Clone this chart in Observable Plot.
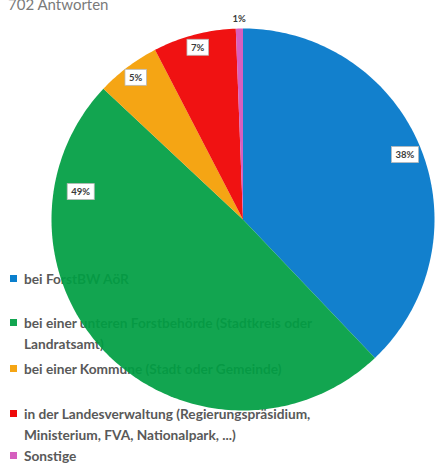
<!DOCTYPE html>
<html>
<head>
<meta charset="utf-8">
<script src="https://cdn.jsdelivr.net/npm/d3@7"></script>
<script src="https://cdn.jsdelivr.net/npm/@observablehq/plot@0.6"></script>
<style>
  html, body { margin: 0; padding: 0; background: #fff; }
  #wrap { position: relative; width: 436px; height: 463px; overflow: hidden; font-family: Lato, "Open Sans", sans-serif; }
  #subtitle { position: absolute; left: 8px; top: -5px; font-size: 15px; color: #7a7a7a; z-index: 2; white-space: nowrap; }
  #legend { position: absolute; left: 0; top: 0; width: 436px; height: 463px; z-index: 0; }
  .item { position: absolute; left: 10px; font-size: 13.7px; font-weight: 700; color: #595959; line-height: 21px; white-space: nowrap; }
  .sw { position: absolute; left: 0; top: 7px; width: 7px; height: 7px; }
  .txt { margin-left: 14px; }
  #chart { position: absolute; left: 0; top: 0; z-index: 1; }
</style>
</head>
<body>
<div id="wrap">
  <div id="subtitle"></div>
  <div id="legend"></div>
  <div id="chart"></div>
</div>
<script>
// Data
const categories = [
  "bei ForstBW AöR",
  "bei einer unteren Forstbehörde (Stadtkreis oder Landratsamt)",
  "bei einer Kommune (Stadt oder Gemeinde)",
  "in der Landesverwaltung (Regierungspräsidium, Ministerium, FVA, Nationalpark, ...)",
  "Sonstige"
];
const legendLines = [
  ["bei ForstBW AöR"],
  ["bei einer unteren Forstbehörde (Stadtkreis oder", "Landratsamt)"],
  ["bei einer Kommune (Stadt oder Gemeinde)"],
  ["in der Landesverwaltung (Regierungspräsidium,", "Ministerium, FVA, Nationalpark, ...)"],
  ["Sonstige"]
];
const values = [37.9, 49.1, 5.4, 7.0, 0.6]; // percent
const subtitle = "702 Antworten";

// Style / layout (kept separate from data)
const legendColors = ["#0a7fcd", "#12a550", "#f5a514", "#ee0a0a", "#d55fbe"];
const sliceColors = ["#0076c9", "#009e43", "#f49e02", "#ef0000", "#d453b9"];
const fillOpacity = 0.93;
const labelFrac = [0.5, 0.81, 0.5, 0.5, 0.5];   // position within slice
const labelR = [0.91, 0.86, 0.93, 0.93, 1.05];
const legendTops = [268, 312, 358, 403, 445];

// Build slices
const total = d3.sum(values);
let acc = 0;
const slices = values.map((v, i) => {
  const a0 = acc / total * 2 * Math.PI;
  acc += v;
  const a1 = acc / total * 2 * Math.PI;
  return {cat: categories[i], a0, a1, v, i};
});
const pts = [];
for (const s of slices) {
  pts.push({cat: s.cat, x: 0, y: 0});
  const n = Math.max(2, Math.ceil((s.a1 - s.a0) / (Math.PI / 180)));
  for (let k = 0; k <= n; k++) {
    const a = s.a0 + (s.a1 - s.a0) * k / n;
    pts.push({cat: s.cat, x: Math.sin(a), y: Math.cos(a)});
  }
}
const labels = slices.map(s => {
  const a = s.a0 + (s.a1 - s.a0) * labelFrac[s.i];
  const r = labelR[s.i];
  return {x: r * Math.sin(a), y: r * Math.cos(a), text: Math.round(s.v) + "%", boxed: r < 1};
});

const plot = Plot.plot({
  width: 436,
  height: 463,
  marginLeft: 51,
  marginRight: 2,
  marginTop: 28,
  marginBottom: 53,
  style: {background: "transparent", overflow: "visible"},
  x: {domain: [-1, 1], axis: null},
  y: {domain: [-1, 1], axis: null},
  color: {domain: categories, range: sliceColors},
  marks: [
    Plot.line(pts, {x: "x", y: "y", z: "cat", fill: "cat", stroke: "none", fillOpacity, curve: "linear-closed"}),
    Plot.text(labels, {x: "x", y: "y", text: "text", fill: "#3a3a3a", fontWeight: "bold", fontSize: 9.5, fontFamily: "Lato, sans-serif"})
  ]
});
document.getElementById("chart").appendChild(plot);

// White boxes behind labels
const texts = Array.from(plot.querySelectorAll("text"));
texts.forEach((t, i) => {
  if (!labels[i] || !labels[i].boxed) return;
  const b = t.getBBox();
  const r = document.createElementNS("http://www.w3.org/2000/svg", "rect");
  r.setAttribute("x", b.x - 4);
  r.setAttribute("y", b.y - 2.5);
  r.setAttribute("width", b.width + 8);
  r.setAttribute("height", b.height + 5);
  r.setAttribute("fill", "white");
  r.setAttribute("stroke", "#b8b8b8");
  r.setAttribute("stroke-width", "0.8");
  const tr = t.getAttribute("transform");
  if (tr) r.setAttribute("transform", tr);
  t.parentNode.insertBefore(r, t);
});

// Legend
document.getElementById("subtitle").textContent = subtitle;
const leg = document.getElementById("legend");
legendLines.forEach((lines, i) => {
  const d = document.createElement("div");
  d.className = "item";
  d.style.top = legendTops[i] + "px";
  const sw = document.createElement("div");
  sw.className = "sw";
  sw.style.background = legendColors[i];
  d.appendChild(sw);
  const t = document.createElement("div");
  t.className = "txt";
  t.innerHTML = lines.join("<br>");
  d.appendChild(t);
  leg.appendChild(d);
});
</script>
</body>
</html>
